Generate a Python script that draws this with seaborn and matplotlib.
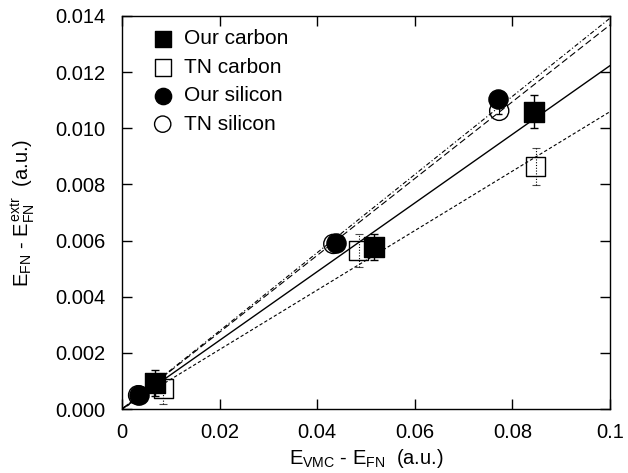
import numpy as np
import pandas as pd
import matplotlib
matplotlib.use('Agg')
import matplotlib.pyplot as plt
import seaborn as sns

# data
our_c_x = [0.0068, 0.0516, 0.0844]
our_c_y = [0.00093, 0.00578, 0.01059]
our_c_err = [0.00045, 0.00047, 0.00058]

tn_c_x = [0.0085, 0.0485, 0.0848]
tn_c_y = [0.00074, 0.00566, 0.00863]
tn_c_err = [0.00055, 0.00059, 0.00065]

our_si_x = [0.0035, 0.0438, 0.0771]
our_si_y = [0.00050, 0.00593, 0.01104]
our_si_err = [0.00005, 0.00008, 0.00010]

tn_si_x = [0.0033, 0.0433, 0.0773]
tn_si_y = [0.00049, 0.00588, 0.01062]
tn_si_err = [0.00005, 0.00008, 0.00012]

# slopes of the fits through the origin
slope_our_c = 0.1223
slope_tn_c = 0.1059
slope_our_si = 0.1368
slope_tn_si = 0.1392

x_ticks = [0, 0.02, 0.04, 0.06, 0.08, 0.1]
x_labels = ['0', '0.02', '0.04', '0.06', '0.08', '0.1']
y_ticks = [0.000, 0.002, 0.004, 0.006, 0.008, 0.010, 0.012, 0.014]

sns.set_theme(style='ticks')
plt.rcParams['font.family'] = ['Liberation Sans', 'DejaVu Sans']
plt.rcParams['mathtext.fontset'] = 'custom'
plt.rcParams['mathtext.rm'] = 'Liberation Sans'
plt.rcParams['mathtext.it'] = 'Liberation Sans'
plt.rcParams['text.color'] = 'black'
plt.rcParams['axes.labelcolor'] = 'black'

fig = plt.figure(figsize=(6.28, 4.73), dpi=100)
ax = fig.add_axes([0.1943, 0.1353, 0.777, 0.831])

# fit lines
xs = np.array([0.0, 0.1])
fits = [(slope_our_c, '-', 1.0), (slope_tn_c, (0, (3, 2)), 0.8),
        (slope_our_si, (0, (6, 3)), 0.8), (slope_tn_si, (0, (4, 2, 1, 2)), 0.8)]
for s, ls, lw in fits:
    d = pd.DataFrame({'x': xs, 'y': s * xs})
    sns.lineplot(data=d, x='x', y='y', ax=ax, color='black', linestyle=ls,
                 linewidth=lw, zorder=2, legend=False)

# error bars
ax.errorbar(our_c_x, our_c_y, yerr=our_c_err, fmt='none', ecolor='black',
            elinewidth=1, capsize=3, capthick=1, zorder=3)
eb = ax.errorbar(tn_c_x, tn_c_y, yerr=tn_c_err, fmt='none', ecolor='black',
                 elinewidth=0.8, capsize=3, capthick=0.8, zorder=3)
eb[2][0].set_linestyle((0, (1, 1.5)))
for c in eb[1]:
    c.set_alpha(0.7)
ax.errorbar(our_si_x, our_si_y, yerr=our_si_err, fmt='none', ecolor='black',
            elinewidth=0.8, capsize=2, zorder=3)
ax.errorbar(tn_si_x, tn_si_y, yerr=tn_si_err, fmt='none', ecolor='black',
            elinewidth=0.8, capsize=2, zorder=3)

# markers
sns.scatterplot(x=our_c_x, y=our_c_y, ax=ax, marker='s', s=190, color='black',
                edgecolor='black', linewidth=1, label='Our carbon', zorder=4)
sns.scatterplot(x=tn_c_x, y=tn_c_y, ax=ax, marker='s', s=190, facecolor='none',
                edgecolor='black', linewidth=1, label='TN carbon', zorder=4)
sns.scatterplot(x=our_si_x, y=our_si_y, ax=ax, marker='o', s=190, color='black',
                edgecolor='black', linewidth=1, label='Our silicon', zorder=5)
sns.scatterplot(x=tn_si_x, y=tn_si_y, ax=ax, marker='o', s=190, facecolor='none',
                edgecolor='black', linewidth=1, label='TN silicon', zorder=5)

ax.set_xlim(0, 0.1)
ax.set_ylim(0, 0.014)
ax.set_xticks(x_ticks)
ax.set_xticklabels(x_labels)
ax.set_yticks(y_ticks)
ax.set_yticklabels([f'{v:.3f}' for v in y_ticks])
ax.tick_params(direction='in', length=7, width=1, labelsize=14.5, top=True,
               right=True, colors='black', labelcolor='black')
ax.tick_params(axis='y', pad=12)
ax.tick_params(axis='x', pad=10)
for sp in ax.spines.values():
    sp.set_linewidth(1)
    sp.set_color('black')

ax.set_xlabel(r'$E_{VMC}$ - $E_{FN}$  (a.u.)', fontsize=14.5, labelpad=4)
ax.set_ylabel(r'$E_{FN}$ - $E_{FN}^{extr}$  (a.u.)', fontsize=14.5, labelpad=14)

leg = ax.legend(loc='upper left', bbox_to_anchor=(0.03, 1.0), frameon=False,
                fontsize=15, handletextpad=0.4, markerscale=0.85,
                labelspacing=0.45, borderaxespad=0.25, handlelength=1.2)

fig.savefig('out.png', dpi=100)
